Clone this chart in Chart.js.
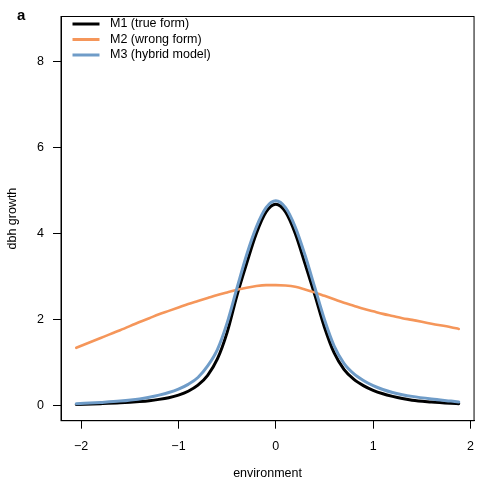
<!DOCTYPE html>
<html>
<head>
  <title>dbh growth vs environment</title>
  <script src="https://cdn.jsdelivr.net/npm/chart.js"></script>
  <style>
    html, body { margin: 0; padding: 0; background: #fff; }
  </style>
</head>
<body>
  <canvas id="growthChart" width="484" height="484"></canvas>

  <script>
    const envX = [-2.05, -1.8, -1.6, -1.4, -1.3, -1.2, -1.1, -1.0, -0.9, -0.8, -0.7, -0.6, -0.5, -0.4, -0.3, -0.2, -0.1,
                  0, 0.1, 0.2, 0.3, 0.4, 0.5, 0.6, 0.7, 0.8, 0.9, 1.0, 1.1, 1.2, 1.3, 1.4, 1.6, 1.8, 1.88];

    const m1True = [0.02, 0.04, 0.06, 0.09, 0.11, 0.14, 0.18, 0.24, 0.33, 0.47, 0.70, 1.08, 1.70, 2.55, 3.30, 4.00, 4.50,
                    4.68, 4.50, 4.00, 3.30, 2.58, 1.82, 1.22, 0.84, 0.61, 0.46, 0.35, 0.27, 0.21, 0.16, 0.12, 0.08, 0.05, 0.04];
    const m2Wrong = [1.34, 1.57, 1.75, 1.94, 2.03, 2.12, 2.20, 2.28, 2.36, 2.43, 2.50, 2.57, 2.63, 2.69, 2.74, 2.78, 2.80,
                     2.80, 2.79, 2.76, 2.70, 2.63, 2.55, 2.47, 2.39, 2.32, 2.25, 2.19, 2.13, 2.08, 2.03, 1.99, 1.90, 1.82, 1.78];
    const m3Hybrid = [0.04, 0.07, 0.10, 0.15, 0.19, 0.24, 0.30, 0.38, 0.49, 0.65, 0.92, 1.30, 1.92, 2.72, 3.50, 4.15, 4.60,
                      4.76, 4.60, 4.15, 3.50, 2.75, 2.00, 1.38, 0.98, 0.74, 0.58, 0.46, 0.37, 0.30, 0.25, 0.21, 0.15, 0.10, 0.08];

    const seriesLabels = ['M1 (true form)', 'M2 (wrong form)', 'M3 (hybrid model)'];
    const xTicks = [-2, -1, 0, 1, 2];
    const yTicks = [0, 2, 4, 6, 8];

    const FONT = 'Liberation Sans, Arial, Helvetica, sans-serif';
    const colors = ['#000000', '#F5965A', '#6F9CC8'];

    function pts(ys) {
      return ys.map((y, i) => ({ x: envX[i], y: y }));
    }

    function fmt(v) {
      return v < 0 ? '\u2212' + Math.abs(v) : String(v);
    }

    // box around the plot region, R style, plus the panel letter and legend
    const decor = {
      id: 'decor',
      afterDraw(chart) {
        const ctx = chart.ctx;
        const a = chart.chartArea;
        ctx.save();
        ctx.strokeStyle = '#000';
        ctx.lineWidth = 1;
        ctx.strokeRect(a.left, a.top, a.right - a.left, a.bottom - a.top);

        ctx.fillStyle = '#000';
        ctx.font = 'bold 15px ' + FONT;
        ctx.textBaseline = 'alphabetic';
        ctx.fillText('a', 17, 19.5);

        ctx.font = '12.5px ' + FONT;
        ctx.textBaseline = 'middle';
        const rows = [24, 39.5, 55];
        chart.data.datasets.forEach((ds, i) => {
          ctx.strokeStyle = ds.borderColor;
          ctx.lineWidth = 3;
          ctx.beginPath();
          ctx.moveTo(72.5, rows[i]);
          ctx.lineTo(99.5, rows[i]);
          ctx.stroke();
          ctx.fillStyle = '#000';
          ctx.fillText(ds.label, 110, rows[i]);
        });
        ctx.restore();
      }
    };

    const config = {
      type: 'line',
      data: {
        datasets: [
          { label: seriesLabels[0], data: pts(m1True), borderColor: colors[0], borderWidth: 3, order: 2 },
          { label: seriesLabels[1], data: pts(m2Wrong), borderColor: colors[1], borderWidth: 2.6, order: 1 },
          { label: seriesLabels[2], data: pts(m3Hybrid), borderColor: colors[2], borderWidth: 3, order: 0 }
        ]
      },
      options: {
        responsive: false,
        animation: false,
        elements: {
          point: { radius: 0 },
          line: { cubicInterpolationMode: 'monotone', fill: false, borderCapStyle: 'round', borderJoinStyle: 'round' }
        },
        layout: { padding: { top: 6, right: 9.3, left: 0, bottom: 0 } },
        plugins: {
          legend: { display: false },
          tooltip: { enabled: false }
        },
        scales: {
          x: {
            type: 'linear',
            min: -2.207,
            max: 2.037,
            afterBuildTicks: (s) => { s.ticks = xTicks.map(v => ({ value: v })); },
            afterFit: (s) => { s.height = 63.3; },
            grid: { display: true, drawOnChartArea: false, drawTicks: true, tickLength: 8, tickColor: '#000', tickWidth: 1 },
            border: { display: true, color: '#000', width: 1 },
            ticks: {
              color: '#000',
              font: { family: FONT, size: 12.5 },
              padding: 10,
              maxRotation: 0,
              callback: (v) => fmt(v)
            },
            title: {
              display: true,
              text: 'environment',
              color: '#000',
              font: { family: FONT, size: 12.5 },
              padding: { top: 0, bottom: 3 }
            }
          },
          y: {
            type: 'linear',
            min: -0.356,
            max: 9.05,
            afterBuildTicks: (s) => { s.ticks = yTicks.map(v => ({ value: v })); },
            afterFit: (s) => { s.width = 61; },
            grid: { display: true, drawOnChartArea: false, drawTicks: true, tickLength: 8, tickColor: '#000', tickWidth: 1 },
            border: { display: true, color: '#000', width: 1 },
            ticks: {
              color: '#000',
              font: { family: FONT, size: 12.5 },
              padding: 9,
              callback: (v) => fmt(v)
            },
            title: {
              display: true,
              text: 'dbh growth',
              color: '#000',
              font: { family: FONT, size: 12.5 },
              padding: { top: 5.5, bottom: 0 }
            }
          }
        }
      },
      plugins: [decor]
    };

    const chart = new Chart(document.getElementById('growthChart').getContext('2d'), config);
  </script>
</body>
</html>
